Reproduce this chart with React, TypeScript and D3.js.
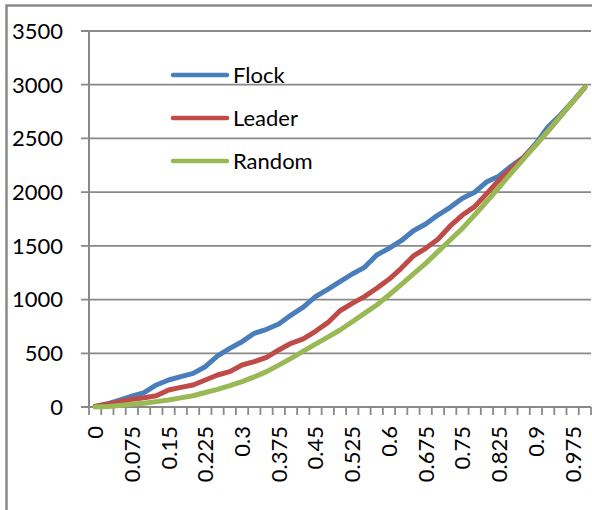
import React from "react";
import * as d3 from "d3";

const categories = [
  0, 0.025, 0.05, 0.075, 0.1, 0.125, 0.15, 0.175, 0.2, 0.225,
  0.25, 0.275, 0.3, 0.325, 0.35, 0.375, 0.4, 0.425, 0.45, 0.475,
  0.5, 0.525, 0.55, 0.575, 0.6, 0.625, 0.65, 0.675, 0.7, 0.725,
  0.75, 0.775, 0.8, 0.825, 0.85, 0.875, 0.9, 0.925, 0.95, 0.975, 1,
];

const flock = [
  5, 30, 65, 100, 133, 205, 251, 282, 313, 375,
  475, 546, 608, 686, 723, 773, 856, 930, 1027, 1095,
  1167, 1238, 1300, 1415, 1477, 1548, 1641, 1703, 1787, 1859,
  1943, 1999, 2097, 2150, 2243, 2324, 2454, 2609, 2718, 2842, 2976,
];

const leader = [
  5, 25, 50, 71, 87, 105, 158, 183, 205, 251,
  298, 329, 391, 422, 462, 531, 593, 635, 705, 785,
  896, 965, 1027, 1105, 1189, 1291, 1406, 1477, 1561, 1685,
  1787, 1865, 1989, 2113, 2222, 2324, 2440, 2570, 2705, 2840, 2976,
];

const random = [
  0, 5, 15, 25, 34, 50, 65, 85, 105, 135,
  164, 198, 236, 280, 329, 390, 453, 520, 585, 650,
  717, 794, 872, 949, 1043, 1140, 1240, 1337, 1446, 1555,
  1663, 1787, 1915, 2045, 2180, 2310, 2440, 2570, 2705, 2840, 2975,
];

const yTicks = [0, 500, 1000, 1500, 2000, 2500, 3000, 3500];

const seriesNames = ["Flock", "Leader", "Random"];
const seriesColors = ["#4A7EBB", "#BE4B48", "#98B954"];
const seriesData = [flock, leader, random];

const W = 592;
const H = 510;
const FONT = "Lato, 'Open Sans', sans-serif";
const GRAY = "#898989";

export default function App() {
  const x = d3
    .scaleBand<number>()
    .domain(categories.map((_, i) => i))
    .range([89, 591])
    .paddingInner(0)
    .paddingOuter(0);
  const y = d3.scaleLinear().domain([0, 3500]).range([407, 31]);
  const cx = (i: number) => (x(i) as number) + x.bandwidth() / 2;

  const line = d3
    .line<number>()
    .x((_, i) => cx(i))
    .y((d) => y(d));

  const tickXs = d3.range(categories.length + 1).map((i) => 89 + i * x.step());

  return (
    <svg
      width={W}
      height={H}
      style={{ position: "absolute", left: 0, top: 0, display: "block", background: "#fff" }}
      fontFamily={FONT}
    >
      <rect x={0} y={0} width={W} height={H} fill="#fff" />
      {/* outer border */}
      <rect x={6.5} y={5.5} width={W + 20} height={H + 20} fill="none" stroke={GRAY} strokeWidth={2.5} />

      {/* gridlines */}
      {yTicks.map((t) => (
        <line key={t} x1={81} x2={591} y1={y(t)} y2={y(t)} stroke={GRAY} strokeWidth={1.8} />
      ))}
      {/* y axis */}
      <line x1={89} x2={89} y1={y(3500)} y2={y(0)} stroke={GRAY} strokeWidth={2} />
      {/* x ticks */}
      {tickXs.map((tx, i) => (
        <line key={i} x1={tx} x2={tx} y1={y(0)} y2={y(0) + 8} stroke={GRAY} strokeWidth={1.8} />
      ))}
      {/* y labels */}
      {yTicks.map((t) => (
        <text key={t} x={63} y={y(t)} dy="0.36em" textAnchor="end" fontSize={22} fill="#000">
          {t}
        </text>
      ))}
      {/* x labels */}
      {categories.map((c, i) =>
        i % 3 === 0 ? (
          <text
            key={i}
            transform={`translate(${cx(i)},426) rotate(-90)`}
            textAnchor="end"
            dy="0.36em"
            fontSize={22}
            fill="#000"
          >
            {String(c)}
          </text>
        ) : null
      )}

      {/* series */}
      {seriesData.map((s, k) => (
        <path
          key={k}
          d={line(s) as string}
          fill="none"
          stroke={seriesColors[k]}
          strokeWidth={5}
          strokeLinejoin="round"
          strokeLinecap="round"
        />
      ))}

      {/* legend */}
      {seriesNames.map((n, k) => {
        const ly = 75 + k * 43;
        return (
          <g key={n}>
            <line x1={173} x2={227} y1={ly} y2={ly} stroke={seriesColors[k]} strokeWidth={4.5} strokeLinecap="round" />
            <text x={233} y={ly} dy="0.36em" fontSize={22} fill="#000">
              {n}
            </text>
          </g>
        );
      })}
    </svg>
  );
}
